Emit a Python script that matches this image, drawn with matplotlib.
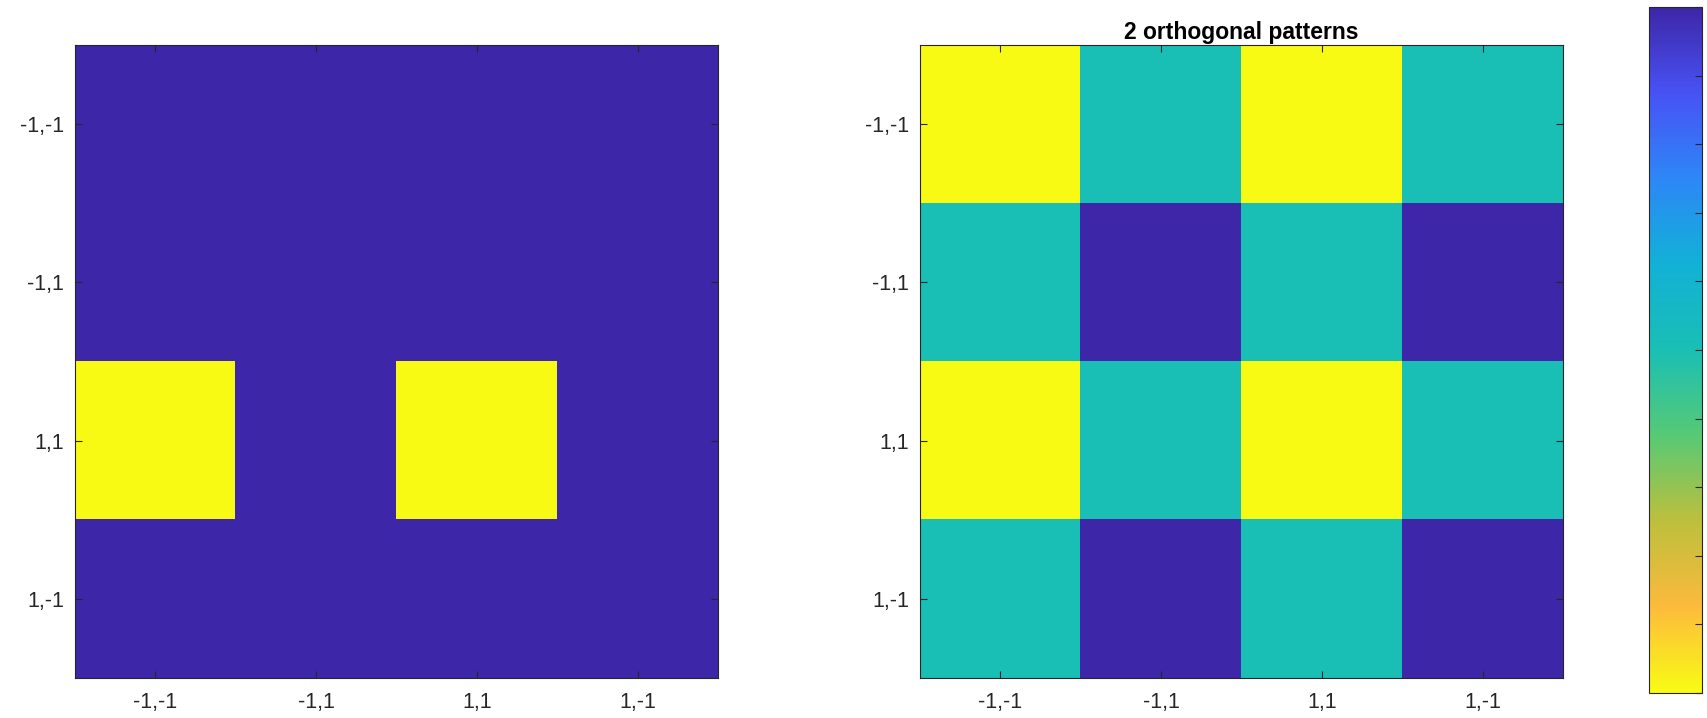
import numpy as np
import matplotlib
matplotlib.use("Agg")
import matplotlib.pyplot as plt
from matplotlib.colors import LinearSegmentedColormap

plt.rcParams['font.family'] = ['Liberation Sans', 'DejaVu Sans']

# tick labels (same on both axes)
labels = ["-1,-1", "-1,1", "1,1", "1,-1"]

# left panel: 1 = blue, 0 = yellow
pattern_a = [[1, 1, 1, 1],
             [1, 1, 1, 1],
             [0, 1, 0, 1],
             [1, 1, 1, 1]]

# right panel: 0 = yellow, 0.5 = teal, 1 = blue
pattern_b = [[0.0, 0.5, 0.0, 0.5],
             [0.5, 1.0, 0.5, 1.0],
             [0.0, 0.5, 0.0, 0.5],
             [0.5, 1.0, 0.5, 1.0]]

title_b = "2 orthogonal patterns"

# rough parula, flipped so yellow is low
parula_pts = [(0.2422, 0.1504, 0.6603), (0.2810, 0.3228, 0.9579),
              (0.1786, 0.5289, 0.9682), (0.0689, 0.6948, 0.8394),
              (0.1020, 0.7480, 0.7080), (0.3400, 0.7900, 0.4600),
              (0.7400, 0.7500, 0.2400), (0.9900, 0.7300, 0.2400),
              (0.9769, 0.9839, 0.0805)]
cmap = LinearSegmentedColormap.from_list("parula_r", parula_pts[::-1], N=256)

fig = plt.figure(figsize=(17.08, 7.18), dpi=100)
W, H = 1708, 718

def box(x0, y0, x1, y1):
    return [x0 / W, 1 - y1 / H, (x1 - x0) / W, (y1 - y0) / H]

ax1 = fig.add_axes(box(75, 45, 718, 678))
ax2 = fig.add_axes(box(920, 45, 1563, 678))
cax = fig.add_axes(box(1649, 7, 1702, 693))

dark = '#262626'
for ax, data in [(ax1, pattern_a), (ax2, pattern_b)]:
    im = ax.imshow(np.array(data), cmap=cmap, vmin=0, vmax=1, aspect='auto',
                   interpolation='nearest')
    ax.set_xticks(range(len(labels)))
    ax.set_xticklabels(labels)
    ax.set_yticks(range(len(labels)))
    ax.set_yticklabels(labels)
    ax.tick_params(direction='in', top=True, right=True, length=5, width=0.8,
                   labelsize=15.5, colors=dark, pad=8)
    ax.tick_params(axis='x', pad=10)
    for s in ax.spines.values():
        s.set_color(dark)
        s.set_linewidth(0.8)

ax2.set_title(title_b, fontsize=16.5, fontweight='bold', pad=4)

cb = fig.colorbar(im, cax=cax)
cb.set_ticks(np.linspace(0, 1, 11))
cax.tick_params(direction='in', length=5, width=0.8, labelright=False,
                colors=dark)
cb.outline.set_edgecolor(dark)
cb.outline.set_linewidth(0.8)

fig.savefig("out.png", dpi=100)
